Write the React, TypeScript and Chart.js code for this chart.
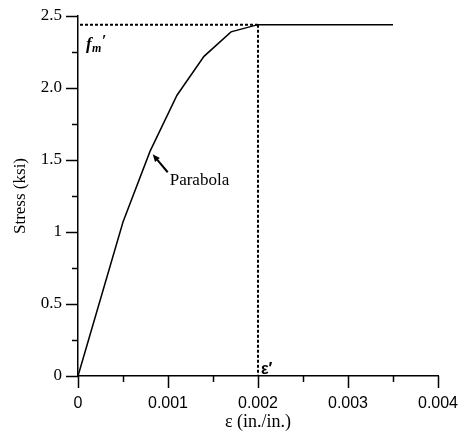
import React, { useEffect, useRef } from "react";
import { Chart, registerables } from "chart.js";

Chart.register(...registerables);

const strain = [0, 0.0005, 0.0008, 0.0011, 0.0014, 0.0017, 0.002, 0.0035];
const stress = [0, 1.07, 1.56, 1.95, 2.22, 2.39, 2.44, 2.44];
const fmPrime = 2.44;
const epsPrime = 0.002;
const yTickLabels: Record<string, string> = { "0": "0", "0.5": "0.5", "1": "1", "1.5": "1.5", "2": "2.0", "2.5": "2.5" };
const xTickLabels: Record<string, string> = { "0": "0", "0.001": "0.001", "0.002": "0.002", "0.003": "0.003", "0.004": "0.004" };

const SERIF = "'Liberation Serif', 'Times New Roman', serif";
const SANS = "'Liberation Sans', Arial, sans-serif";

const zeroPad = (s: any) => {
  s.paddingTop = 0;
  s.paddingBottom = 0;
  s.paddingLeft = 0;
  s.paddingRight = 0;
};

const decorPlugin = {
  id: "decor",
  afterDraw(chart: any) {
    const ctx = chart.ctx;
    const xs = chart.scales.x;
    const ys = chart.scales.y;
    ctx.save();
    ctx.strokeStyle = "#000";
    ctx.lineWidth = 1.5;
    // y ticks
    for (let i = 0; i <= 10; i++) {
      const v = i * 0.25;
      const major = i % 2 === 0;
      const py = Math.round(ys.getPixelForValue(v)) + 0.5;
      ctx.beginPath();
      ctx.moveTo(xs.left, py);
      ctx.lineTo(xs.left - (major ? 12 : 6), py);
      ctx.stroke();
    }
    // x ticks
    for (let i = 0; i <= 8; i++) {
      const v = i * 0.0005;
      const major = i % 2 === 0;
      const px = Math.round(xs.getPixelForValue(v)) + 0.5;
      ctx.beginPath();
      ctx.moveTo(px, ys.bottom);
      ctx.lineTo(px, ys.bottom + (major ? 12 : 6));
      ctx.stroke();
    }
    // dashed reference lines
    ctx.setLineDash([3, 2]);
    ctx.lineWidth = 2;
    const fy = ys.getPixelForValue(fmPrime);
    const ex = xs.getPixelForValue(epsPrime);
    ctx.beginPath();
    ctx.moveTo(xs.left + 2, fy);
    ctx.lineTo(ex, fy);
    ctx.stroke();
    ctx.beginPath();
    ctx.moveTo(ex, fy);
    ctx.lineTo(ex, ys.bottom);
    ctx.stroke();
    ctx.setLineDash([]);
    // f_m'
    ctx.fillStyle = "#000";
    ctx.textBaseline = "alphabetic";
    ctx.textAlign = "left";
    ctx.font = `italic bold 17px ${SERIF}`;
    const fx = xs.left + 8;
    const fyText = fy + 24;
    ctx.fillText("f", fx, fyText);
    ctx.font = `italic bold 12px ${SERIF}`;
    ctx.fillText("m", fx + 6, fyText + 3);
    ctx.font = `bold 16px ${SERIF}`;
    ctx.fillText("\u2032", fx + 16, fyText - 3);
    // epsilon'
    ctx.font = `bold 16px ${SANS}`;
    ctx.fillText("\u03b5\u2032", ex + 3, ys.bottom - 2);
    // arrow + Parabola
    const tipX = xs.getPixelForValue(0.00083);
    const tipY = ys.getPixelForValue(1.54);
    const tailX = tipX + 15;
    const tailY = tipY + 18;
    ctx.lineWidth = 2;
    ctx.beginPath();
    ctx.moveTo(tailX, tailY);
    ctx.lineTo(tipX + 3, tipY + 3.6);
    ctx.stroke();
    const ang = Math.atan2(tipY - tailY, tipX - tailX);
    ctx.beginPath();
    ctx.moveTo(tipX, tipY);
    ctx.lineTo(tipX - 8 * Math.cos(ang - 0.4), tipY - 8 * Math.sin(ang - 0.4));
    ctx.lineTo(tipX - 8 * Math.cos(ang + 0.4), tipY - 8 * Math.sin(ang + 0.4));
    ctx.closePath();
    ctx.fill();
    ctx.font = `17px ${SERIF}`;
    ctx.textBaseline = "middle";
    ctx.fillText("Parabola", tailX + 2, tailY + 8);
    ctx.restore();
  },
};

export default function App() {
  const ref = useRef<HTMLCanvasElement | null>(null);
  useEffect(() => {
    document.body.style.margin = "0";
    const chart = new Chart(ref.current as HTMLCanvasElement, {
      type: "line",
      data: {
        datasets: [
          {
            data: strain.map((x, i) => ({ x, y: stress[i] })),
            borderColor: "#000",
            borderWidth: 1.5,
            pointRadius: 0,
            tension: 0,
            fill: false,
          },
        ],
      },
      options: {
        animation: false,
        responsive: false,
        devicePixelRatio: 1,
        layout: { padding: { top: 16, right: 22, bottom: 0, left: 0 } },
        plugins: { legend: { display: false }, tooltip: { enabled: false } },
        scales: {
          x: {
            type: "linear",
            min: 0,
            max: 0.004,
            afterFit: (s: any) => { s.height = 58; zeroPad(s); },
            ticks: {
              stepSize: 0.001,
              autoSkip: false,
              maxRotation: 0,
              padding: 18,
              color: "#000",
              font: { family: SANS, size: 16 },
              callback: (v: any) => xTickLabels[String(Number(v).toFixed(3).replace(/\.?0+$/, ""))] ?? "",
            },
            grid: { display: false, drawTicks: false },
            border: { display: true, color: "#000", width: 1.5 },
            title: {
              display: true,
              text: "\u03b5 (in./in.)",
              color: "#000",
              font: { family: SERIF, size: 18 },
              padding: { top: 0, bottom: 1 },
            },
          },
          y: {
            type: "linear",
            min: 0,
            max: 2.5,
            afterFit: (s: any) => { s.width = 78; zeroPad(s); },
            ticks: {
              stepSize: 0.5,
              autoSkip: false,
              padding: 16,
              color: "#000",
              font: { family: SERIF, size: 17 },
              callback: (v: any) => yTickLabels[String(Number(v))] ?? "",
            },
            grid: { display: false, drawTicks: false },
            border: { display: true, color: "#000", width: 1.5 },
            title: {
              display: true,
              text: "Stress (ksi)",
              color: "#000",
              font: { family: SERIF, size: 17 },
              padding: { top: 10, bottom: 0 },
            },
          },
        },
      },
      plugins: [decorPlugin],
    } as any);
    return () => chart.destroy();
  }, []);
  return (
    <div style={{ position: "absolute", left: 0, top: 0, width: 460, height: 434, background: "#fff" }}>
      <canvas ref={ref} width={460} height={434} />
    </div>
  );
}
